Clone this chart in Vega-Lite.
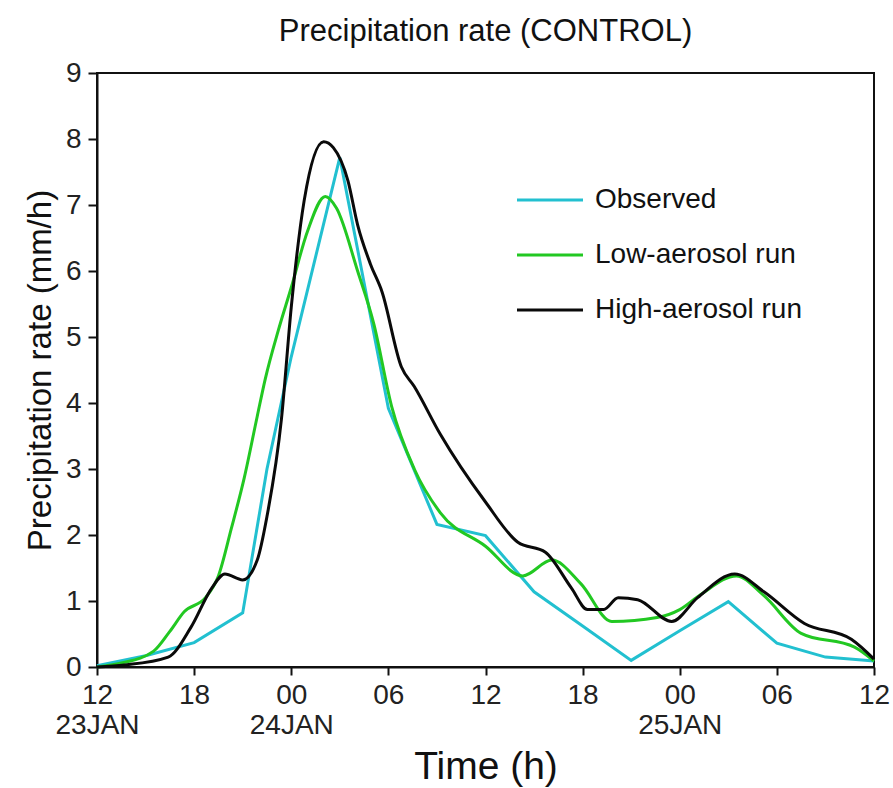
{
  "$schema": "https://vega.github.io/schema/vega-lite/v6.json",
  "width": 777,
  "height": 594,
  "autosize": {"type": "none"},
  "padding": {"left": 97, "top": 73, "right": 19, "bottom": 121},
  "background": "white",
  "title": {
    "text": "Precipitation rate (CONTROL)",
    "font": "Liberation Sans",
    "fontSize": 31,
    "fontWeight": "normal",
    "color": "#111",
    "anchor": "middle",
    "baseline": "bottom",
    "offset": -20
  },
  "config": {
    "view": {"stroke": "#111", "strokeWidth": 2},
    "axis": {
      "domainColor": "#111",
      "domainWidth": 2,
      "tickColor": "#111",
      "tickWidth": 2,
      "grid": false,
      "labelColor": "#222",
      "titleColor": "#111",
      "labelFont": "Liberation Sans",
      "titleFont": "Liberation Sans",
      "titleFontWeight": "normal"
    }
  },
  "data": {
    "values": [
      {"s": "Observed", "t": 0, "v": 0.02},
      {"s": "Observed", "t": 3, "v": 0.17},
      {"s": "Observed", "t": 6, "v": 0.37},
      {"s": "Observed", "t": 9, "v": 0.82},
      {"s": "Observed", "t": 10.5, "v": 3.0},
      {"s": "Observed", "t": 12, "v": 4.7},
      {"s": "Observed", "t": 15, "v": 7.72},
      {"s": "Observed", "t": 18, "v": 3.92},
      {"s": "Observed", "t": 21, "v": 2.16},
      {"s": "Observed", "t": 24, "v": 1.99},
      {"s": "Observed", "t": 27, "v": 1.14},
      {"s": "Observed", "t": 30, "v": 0.62},
      {"s": "Observed", "t": 33, "v": 0.1},
      {"s": "Observed", "t": 36, "v": 0.55},
      {"s": "Observed", "t": 39, "v": 0.99},
      {"s": "Observed", "t": 42, "v": 0.36},
      {"s": "Observed", "t": 45, "v": 0.15},
      {"s": "Observed", "t": 48, "v": 0.09},

      {"s": "Low-aerosol run", "t": 0, "v": 0.0},
      {"s": "Low-aerosol run", "t": 1.5, "v": 0.06},
      {"s": "Low-aerosol run", "t": 3.5, "v": 0.24},
      {"s": "Low-aerosol run", "t": 4.5, "v": 0.54},
      {"s": "Low-aerosol run", "t": 5.4, "v": 0.84},
      {"s": "Low-aerosol run", "t": 6.7, "v": 1.05},
      {"s": "Low-aerosol run", "t": 7.5, "v": 1.38},
      {"s": "Low-aerosol run", "t": 8.3, "v": 2.1},
      {"s": "Low-aerosol run", "t": 9.1, "v": 2.87},
      {"s": "Low-aerosol run", "t": 9.9, "v": 3.8},
      {"s": "Low-aerosol run", "t": 10.4, "v": 4.37},
      {"s": "Low-aerosol run", "t": 11.2, "v": 5.1},
      {"s": "Low-aerosol run", "t": 12, "v": 5.75},
      {"s": "Low-aerosol run", "t": 13, "v": 6.6},
      {"s": "Low-aerosol run", "t": 14.1, "v": 7.13},
      {"s": "Low-aerosol run", "t": 14.8, "v": 6.95},
      {"s": "Low-aerosol run", "t": 16.1, "v": 6.0},
      {"s": "Low-aerosol run", "t": 17.1, "v": 5.2},
      {"s": "Low-aerosol run", "t": 18.2, "v": 3.95},
      {"s": "Low-aerosol run", "t": 19.6, "v": 3.0},
      {"s": "Low-aerosol run", "t": 21.2, "v": 2.34},
      {"s": "Low-aerosol run", "t": 24, "v": 1.83},
      {"s": "Low-aerosol run", "t": 26.3, "v": 1.38},
      {"s": "Low-aerosol run", "t": 28.1, "v": 1.62},
      {"s": "Low-aerosol run", "t": 29.9, "v": 1.26},
      {"s": "Low-aerosol run", "t": 31.8, "v": 0.69},
      {"s": "Low-aerosol run", "t": 34.6, "v": 0.75},
      {"s": "Low-aerosol run", "t": 36, "v": 0.87},
      {"s": "Low-aerosol run", "t": 37.3, "v": 1.1},
      {"s": "Low-aerosol run", "t": 39.5, "v": 1.38},
      {"s": "Low-aerosol run", "t": 41.2, "v": 1.08},
      {"s": "Low-aerosol run", "t": 43.5, "v": 0.51},
      {"s": "Low-aerosol run", "t": 46.8, "v": 0.3},
      {"s": "Low-aerosol run", "t": 48, "v": 0.09},

      {"s": "High-aerosol run", "t": 0, "v": 0.0},
      {"s": "High-aerosol run", "t": 1.7, "v": 0.03},
      {"s": "High-aerosol run", "t": 4.4, "v": 0.15},
      {"s": "High-aerosol run", "t": 5.8, "v": 0.6},
      {"s": "High-aerosol run", "t": 7.1, "v": 1.2},
      {"s": "High-aerosol run", "t": 7.9, "v": 1.41},
      {"s": "High-aerosol run", "t": 9.0, "v": 1.32},
      {"s": "High-aerosol run", "t": 9.9, "v": 1.62},
      {"s": "High-aerosol run", "t": 10.5, "v": 2.28},
      {"s": "High-aerosol run", "t": 11.4, "v": 3.77},
      {"s": "High-aerosol run", "t": 12, "v": 5.45},
      {"s": "High-aerosol run", "t": 12.8, "v": 7.07},
      {"s": "High-aerosol run", "t": 14.0, "v": 7.96},
      {"s": "High-aerosol run", "t": 14.6, "v": 7.87},
      {"s": "High-aerosol run", "t": 15.5, "v": 7.37},
      {"s": "High-aerosol run", "t": 16.1, "v": 6.7},
      {"s": "High-aerosol run", "t": 16.9, "v": 6.1},
      {"s": "High-aerosol run", "t": 17.6, "v": 5.69},
      {"s": "High-aerosol run", "t": 18.8, "v": 4.55},
      {"s": "High-aerosol run", "t": 19.6, "v": 4.25},
      {"s": "High-aerosol run", "t": 21.2, "v": 3.53},
      {"s": "High-aerosol run", "t": 24, "v": 2.5},
      {"s": "High-aerosol run", "t": 26, "v": 1.89},
      {"s": "High-aerosol run", "t": 27.7, "v": 1.74},
      {"s": "High-aerosol run", "t": 29.3, "v": 1.2},
      {"s": "High-aerosol run", "t": 30.3, "v": 0.87},
      {"s": "High-aerosol run", "t": 31.3, "v": 0.87},
      {"s": "High-aerosol run", "t": 32.2, "v": 1.05},
      {"s": "High-aerosol run", "t": 33.4, "v": 1.02},
      {"s": "High-aerosol run", "t": 35.5, "v": 0.69},
      {"s": "High-aerosol run", "t": 37.1, "v": 1.05},
      {"s": "High-aerosol run", "t": 39.4, "v": 1.41},
      {"s": "High-aerosol run", "t": 41.2, "v": 1.14},
      {"s": "High-aerosol run", "t": 43.7, "v": 0.66},
      {"s": "High-aerosol run", "t": 46.6, "v": 0.42},
      {"s": "High-aerosol run", "t": 48, "v": 0.12}
    ]
  },
  "encoding": {
    "x": {
      "field": "t",
      "type": "quantitative",
      "scale": {"domain": [0, 48], "nice": false, "zero": false},
      "axis": {
        "values": [0, 6, 12, 18, 24, 30, 36, 42, 48],
        "labelExpr": "datum.value == 0 ? ['12','23JAN'] : datum.value == 12 ? ['00','24JAN'] : datum.value == 36 ? ['00','25JAN'] : (datum.value == 6 || datum.value == 30) ? '18' : (datum.value == 18 || datum.value == 42) ? '06' : '12'",
        "labelFontSize": 28,
        "labelLineHeight": 30,
        "labelPadding": 6,
        "labelFlush": false,
        "labelOverlap": false,
        "tickSize": 8,
        "title": "Time (h)",
        "titleFontSize": 39,
        "titlePadding": 8
      }
    },
    "y": {
      "field": "v",
      "type": "quantitative",
      "scale": {"domain": [0, 9], "nice": false},
      "axis": {
        "values": [0, 1, 2, 3, 4, 5, 6, 7, 8, 9],
        "labelFontSize": 28,
        "labelPadding": 7,
        "labelFlush": false,
        "labelOverlap": false,
        "tickSize": 9,
        "title": "Precipitation rate (mm/h)",
        "titleFontSize": 33,
        "titlePadding": 8
      }
    },
    "color": {
      "field": "s",
      "type": "nominal",
      "scale": {
        "domain": ["Observed", "Low-aerosol run", "High-aerosol run"],
        "range": ["#22c0d0", "#22c822", "#0a0a0a"]
      },
      "legend": {
        "title": null,
        "orient": "none",
        "legendX": 439,
        "legendY": 113,
        "symbolType": "M-3,0H3",
        "symbolSize": 484,
        "symbolStrokeWidth": 3,
        "labelFont": "Liberation Sans",
        "labelFontSize": 28,
        "labelColor": "#111",
        "labelOffset": 31,
        "rowPadding": 27,
        "padding": 0,
        "labelLimit": 400
      }
    }
  },
  "layer": [
    {
      "transform": [{"filter": "datum.s == 'Observed'"}],
      "mark": {"type": "line", "strokeWidth": 3, "interpolate": "linear"}
    },
    {
      "transform": [{"filter": "datum.s != 'Observed'"}],
      "mark": {"type": "line", "strokeWidth": 3, "interpolate": "monotone"}
    }
  ]
}
